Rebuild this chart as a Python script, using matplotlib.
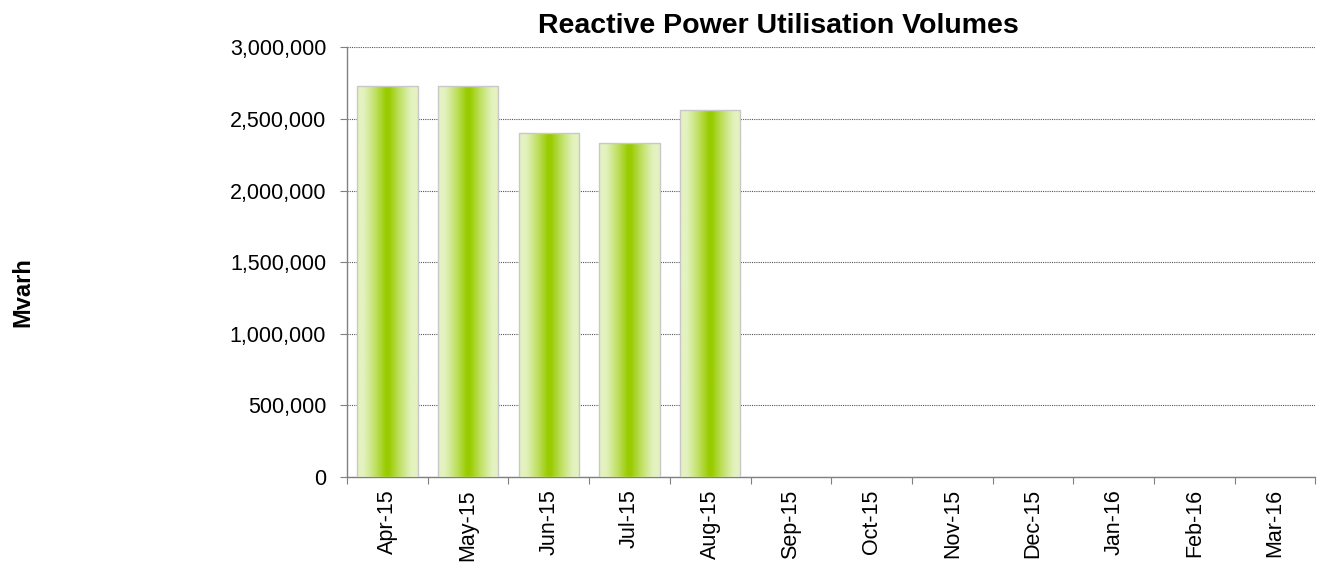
import matplotlib
matplotlib.use("Agg")
import matplotlib.pyplot as plt
import numpy as np
from matplotlib.ticker import FuncFormatter, MultipleLocator

plt.rcParams['font.family'] = ['Liberation Sans', 'DejaVu Sans']

months = ["Apr-15", "May-15", "Jun-15", "Jul-15", "Aug-15", "Sep-15",
          "Oct-15", "Nov-15", "Dec-15", "Jan-16", "Feb-16", "Mar-16"]
volumes = [2731000, 2731000, 2400000, 2332000, 2561000]

title = "Reactive Power Utilisation Volumes"
ylabel = "Mvarh"

fig = plt.figure(figsize=(13.22, 5.68), dpi=100)
ax = fig.add_axes([0.2625, 0.1605, 0.7325, 0.7560])

n = len(months)

# gradient colour strip
light = np.array([228, 242, 192]) / 255.0
dark = np.array([153, 204, 0]) / 255.0
xs = np.linspace(0, 1, 200)
tri = 1 - np.abs(2 * xs - 1)
t = np.clip((tri - 0.2) / 0.75, 0, 1) ** 1.15
grad = light[None, :] + (dark - light)[None, :] * t[:, None]
grad = grad[None, :, :]

bw = 0.75
for i, v in enumerate(volumes):
    x0 = i + 0.5 - bw / 2
    ax.imshow(grad, extent=[x0, x0 + bw, 0, v], aspect='auto', zorder=3,
              interpolation='bilinear')
    ax.add_patch(plt.Rectangle((x0, 0), bw, v, fill=False,
                               edgecolor='#c8c8c8', linewidth=1.0, zorder=4))
ax.set_xlim(0, n)
ax.set_ylim(0, 3000000)

ax.yaxis.set_major_locator(MultipleLocator(500000))
ax.yaxis.set_major_formatter(FuncFormatter(lambda v, p: f"{int(v):,}"))
ax.grid(axis='y', color='#555555', linestyle=(0, (1, 1)), linewidth=0.8, zorder=1)
ax.set_axisbelow(True)

ax.set_xticks(np.arange(0, n + 1))
ax.set_xticklabels([])
ax.set_xticks(np.arange(n) + 0.5, minor=True)
ax.set_xticklabels(months, minor=True, rotation=90, fontsize=15.5)
ax.tick_params(axis='x', which='minor', length=0, pad=9)
ax.tick_params(axis='x', which='major', length=5, color='#808080', direction='out')
ax.tick_params(axis='y', length=5, color='#808080', direction='out', labelsize=15.5, pad=10)

for s in ['top', 'right']:
    ax.spines[s].set_visible(False)
for s in ['left', 'bottom']:
    ax.spines[s].set_color('#808080')
    ax.spines[s].set_linewidth(1.0)

fig.text(778.5 / 1322, 1 - 33 / 568, title, fontsize=20.5, fontweight='bold',
         ha='center', va='baseline')
fig.text(22.7 / 1322, 1 - 292.5 / 568, ylabel, rotation=90, fontsize=17,
         fontweight='bold', ha='center', va='center')

fig.savefig("out.png", dpi=100)
